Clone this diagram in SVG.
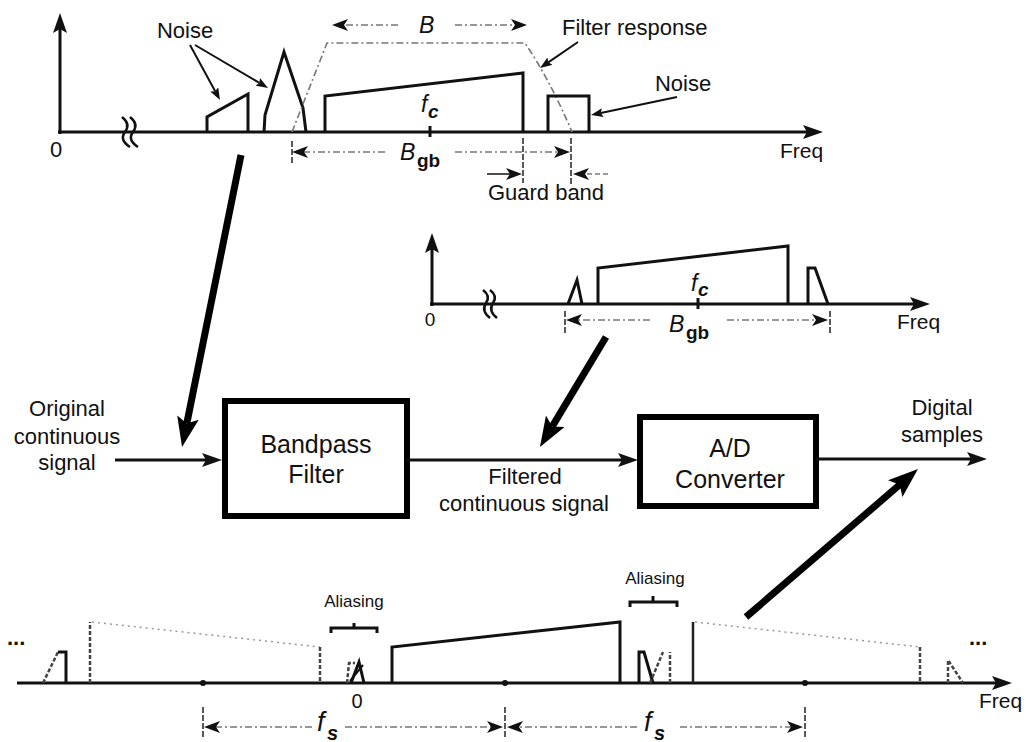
<svg xmlns="http://www.w3.org/2000/svg" width="1026" height="742" viewBox="0 0 1026 742">
<style>
.t{font-family:"Liberation Sans",Arial,sans-serif;fill:#111}
.lab{font-size:22px}
.blk{font-size:22px}
.bx{font-size:25px}
.sm{font-size:17px}
.it{font-style:italic}
.ln{fill:none;stroke:#111;stroke-width:3;stroke-linejoin:miter}
.ax{fill:none;stroke:#111;stroke-width:3}
.dash{fill:none;stroke:#777;stroke-width:1.6;stroke-dasharray:7,3,2,3}
.dot{fill:none;stroke:#999;stroke-width:1.5;stroke-dasharray:2,4}
.vd{fill:none;stroke:#444;stroke-width:2.5;stroke-dasharray:4,2}
.tick{fill:none;stroke:#222;stroke-width:1.5;stroke-dasharray:6,2}
.big{fill:none;stroke:#000;stroke-width:7}
.box{fill:#fff;stroke:#000;stroke-width:6}
.brk{fill:none;stroke:#111;stroke-width:2.5}
</style>
<defs>
<marker id="ma" markerUnits="userSpaceOnUse" markerWidth="20" markerHeight="14" refX="4" refY="7" orient="auto"><path d="M0,0 L20,7 L0,14 L4,7 z" fill="#111"/></marker>
<marker id="md" markerUnits="userSpaceOnUse" markerWidth="16" markerHeight="12" refX="4" refY="6" orient="auto"><path d="M0,0 L16,6 L0,12 L4,6 z" fill="#111"/></marker>
<marker id="ms" markerUnits="userSpaceOnUse" markerWidth="12" markerHeight="9" refX="2" refY="4.5" orient="auto"><path d="M0,0 L12,4.5 L0,9 L2,4.5 z" fill="#111"/></marker>
<marker id="mb" markerUnits="userSpaceOnUse" markerWidth="30" markerHeight="22" refX="6" refY="11" orient="auto"><path d="M0,0 L30,11 L0,22 L6,11 z" fill="#000"/></marker>
</defs>

<!-- Top spectrum: input with noise -->
<g id="spectrum-input">
  <line class="ax" x1="60" y1="134" x2="60" y2="29" marker-end="url(#ma)"/>
  <line class="ax" x1="58" y1="132" x2="807" y2="132" marker-end="url(#ma)"/>
  <text class="t lab" x="56" y="157" text-anchor="middle" font-size="21">0</text>
  <path class="brk" d="M122,117 q9,7 3,15 q-6,8 5,15"/>
  <path class="brk" d="M130,117 q9,7 3,15 q-6,8 5,15"/>
  <path class="ln" d="M207,132 V117 L248,94 V132"/>
  <path class="ln" d="M264,132 L265,115 L284,52 L303,108 L306,132"/>
  <path class="dash" d="M292,132 L327,43 L525,43 Q550,80 572,132"/>
  <path class="ln" stroke-width="3.5" d="M325,132 V96 L523,73 V132"/>
  <path class="ln" d="M548,132 V96 H589 V132"/>
  <line x1="430" y1="126" x2="430" y2="137" stroke="#111" stroke-width="3"/>
  <text class="t it" x="421" y="112" font-size="23">f</text>
  <text class="t it" x="428" y="118" font-size="19" font-weight="bold">c</text>
  <text class="t lab" x="185" y="38" text-anchor="middle">Noise</text>
  <line x1="190" y1="45" x2="215.2" y2="91.2" stroke="#111" stroke-width="2" marker-end="url(#ms)"/>
  <line x1="195" y1="45" x2="259.4" y2="82.9" stroke="#111" stroke-width="2" marker-end="url(#ms)"/>
  <text class="t lab" x="683" y="91" text-anchor="middle">Noise</text>
  <line x1="677" y1="97" x2="600.8" y2="113" stroke="#111" stroke-width="2" marker-end="url(#ms)"/>
  <text class="t lab" x="562" y="35">Filter response</text>
  <line x1="578" y1="42" x2="548.3" y2="62.3" stroke="#111" stroke-width="2" marker-end="url(#ms)"/>
  <text class="t it" x="419" y="33" font-size="23">B</text>
  <line class="dash" x1="398" y1="25" x2="344" y2="25" marker-end="url(#md)"/>
  <line class="dash" x1="455" y1="25" x2="515" y2="25" marker-end="url(#md)"/>
  <text class="t it" x="400" y="160" font-size="23">B</text>
  <text class="t" x="417" y="167" font-size="19" font-weight="bold">gb</text>
  <line class="tick" x1="292" y1="141" x2="292" y2="163"/>
  <line class="dash" x1="385" y1="152" x2="304" y2="152" marker-end="url(#md)"/>
  <line class="dash" x1="455" y1="152" x2="558" y2="152" marker-end="url(#md)"/>
  <line class="tick" x1="523" y1="138" x2="523" y2="183"/>
  <line class="tick" x1="571" y1="138" x2="571" y2="185"/>
  <line x1="487" y1="174" x2="510" y2="174" stroke="#111" stroke-width="1.5" marker-end="url(#md)"/>
  <line x1="608" y1="174" x2="585" y2="174" stroke="#777" stroke-width="1.5" stroke-dasharray="5,3" marker-end="url(#md)"/>
  <text class="t lab" x="546" y="200" text-anchor="middle">Guard band</text>
  <text class="t" x="780" y="158" font-size="21">Freq</text>
</g>

<!-- Middle spectrum: filtered -->
<g id="spectrum-filtered">
  <line class="ax" x1="432" y1="306" x2="432" y2="249" marker-end="url(#ma)"/>
  <line class="ax" x1="430" y1="304" x2="914" y2="304" marker-end="url(#ma)"/>
  <text class="t" x="430" y="326" text-anchor="middle" font-size="19">0</text>
  <path class="brk" d="M483,290 q8,6 3,13 q-5,8 4,15"/>
  <path class="brk" d="M490,290 q8,6 3,13 q-5,8 4,15"/>
  <path class="ln" d="M568,304 L577,280 L582,304"/>
  <path class="ln" stroke-width="3.5" d="M598,304 V268 L788,246 V304"/>
  <path class="ln" d="M808,304 V268 H815 L828,304"/>
  <line x1="698" y1="298" x2="698" y2="309" stroke="#111" stroke-width="3"/>
  <text class="t it" x="691" y="291" font-size="23">f</text>
  <text class="t it" x="698" y="296" font-size="19" font-weight="bold">c</text>
  <line class="tick" x1="565" y1="311" x2="565" y2="333"/>
  <line class="tick" x1="830" y1="311" x2="830" y2="333"/>
  <line class="dash" x1="650" y1="320" x2="578" y2="320" marker-end="url(#md)"/>
  <line class="dash" x1="727" y1="320" x2="816" y2="320" marker-end="url(#md)"/>
  <text class="t it" x="669" y="332" font-size="23">B</text>
  <text class="t" x="686" y="339" font-size="19" font-weight="bold">gb</text>
  <text class="t" x="897" y="329" font-size="21">Freq</text>
</g>

<!-- Block diagram -->
<g id="bandpass-filter">
  <rect class="box" x="225" y="401" width="182" height="115"/>
  <text class="t bx" x="316" y="453" text-anchor="middle">Bandpass</text>
  <text class="t bx" x="316" y="483" text-anchor="middle">Filter</text>
</g>
<g id="ad-converter">
  <rect class="box" x="640" y="417" width="176" height="89"/>
  <text class="t bx" x="730" y="457" text-anchor="middle">A/D</text>
  <text class="t bx" x="730" y="488" text-anchor="middle">Converter</text>
</g>
<g id="labels">
  <text class="t blk" x="67" y="416" text-anchor="middle">Original</text>
  <text class="t blk" x="67" y="444" text-anchor="middle">continuous</text>
  <text class="t blk" x="67" y="470" text-anchor="middle">signal</text>
  <text class="t blk" x="525" y="484" text-anchor="middle">Filtered</text>
  <text class="t blk" x="524" y="511" text-anchor="middle">continuous signal</text>
  <text class="t blk" x="942" y="415" text-anchor="middle">Digital</text>
  <text class="t blk" x="942" y="442" text-anchor="middle">samples</text>
</g>

<!-- Bottom spectrum: sampled -->
<g id="spectrum-sampled">
  <line class="ax" x1="17" y1="683" x2="996" y2="683" marker-end="url(#ma)"/>
  <text class="t" x="7" y="645" font-size="22" font-weight="bold">...</text>
  <text class="t" x="969" y="645" font-size="22" font-weight="bold">...</text>
  <path class="vd" d="M43,683 L58,652"/>
  <path class="ln" stroke-width="2.5" d="M58,652 L66,652 V683"/>
  <line class="vd" x1="90" y1="683" x2="90" y2="622"/>
  <line class="dot" x1="92" y1="622" x2="320" y2="647"/>
  <line class="vd" x1="320" y1="647" x2="320" y2="683"/>
  <circle cx="203" cy="683" r="3" fill="#111"/>
  <circle cx="505" cy="683" r="3" fill="#111"/>
  <circle cx="805" cy="683" r="3" fill="#111"/>
  <path class="vd" d="M347,683 L349,663 L355,663"/>
  <path class="ln" stroke-width="2.5" d="M351,683 L359,662 L364,683"/>
  <line x1="350" y1="681" x2="363" y2="665" stroke="#111" stroke-width="2"/>
  <text class="t" x="357" y="708" text-anchor="middle" font-size="20">0</text>
  <path class="ln" stroke-width="2" d="M331,633 V628 H377 V633 M354,628 V623"/>
  <text class="t sm" x="354" y="607" text-anchor="middle">Aliasing</text>
  <path class="ln" stroke-width="3.5" d="M392,683 V647 L620,622 V683"/>
  <path class="ln" d="M639,683 V652 H644 L653,683"/>
  <line class="vd" x1="650" y1="683" x2="663" y2="652"/>
  <line class="vd" x1="670" y1="683" x2="670" y2="652"/>
  <path class="ln" stroke-width="2" d="M630,607 V602 H677 V607 M653,602 V596"/>
  <text class="t sm" x="655" y="584" text-anchor="middle">Aliasing</text>
  <line x1="693" y1="683" x2="693" y2="622" stroke="#222" stroke-width="2.5"/>
  <line class="dot" x1="695" y1="622" x2="920" y2="647"/>
  <line class="vd" x1="920" y1="647" x2="920" y2="683"/>
  <path class="vd" d="M948,683 V660 L963,683"/>
  <text class="t" x="979" y="708" font-size="21">Freq</text>
  <line class="tick" x1="203" y1="707" x2="203" y2="738"/>
  <line class="tick" x1="505" y1="707" x2="505" y2="738"/>
  <line class="tick" x1="805" y1="707" x2="805" y2="738"/>
  <line class="dash" x1="312" y1="727" x2="216" y2="727" marker-end="url(#md)"/>
  <line class="dash" x1="345" y1="727" x2="491" y2="727" marker-end="url(#md)"/>
  <line class="dash" x1="637" y1="727" x2="519" y2="727" marker-end="url(#md)"/>
  <line class="dash" x1="680" y1="727" x2="791" y2="727" marker-end="url(#md)"/>
  <text class="t it" x="317" y="731" font-size="27">f</text>
  <text class="t it" x="327" y="740" font-size="20" font-weight="bold">s</text>
  <text class="t it" x="644" y="731" font-size="27">f</text>
  <text class="t it" x="654" y="740" font-size="20" font-weight="bold">s</text>
</g>

<!-- Connectors -->
<g id="connectors">
  <line x1="115" y1="460" x2="206" y2="460" stroke="#111" stroke-width="3" marker-end="url(#ma)"/>
  <line x1="407" y1="460" x2="622" y2="460" stroke="#111" stroke-width="3" marker-end="url(#ma)"/>
  <line x1="816" y1="459" x2="971" y2="459" stroke="#111" stroke-width="3" marker-end="url(#ma)"/>
  <line class="big" x1="241" y1="155" x2="186.8" y2="423.5" marker-end="url(#mb)"/>
  <line class="big" x1="606" y1="337" x2="552.3" y2="426.4" marker-end="url(#mb)"/>
  <line class="big" x1="746" y1="617" x2="899.8" y2="484.7" marker-end="url(#mb)"/>
</g>
</svg>
